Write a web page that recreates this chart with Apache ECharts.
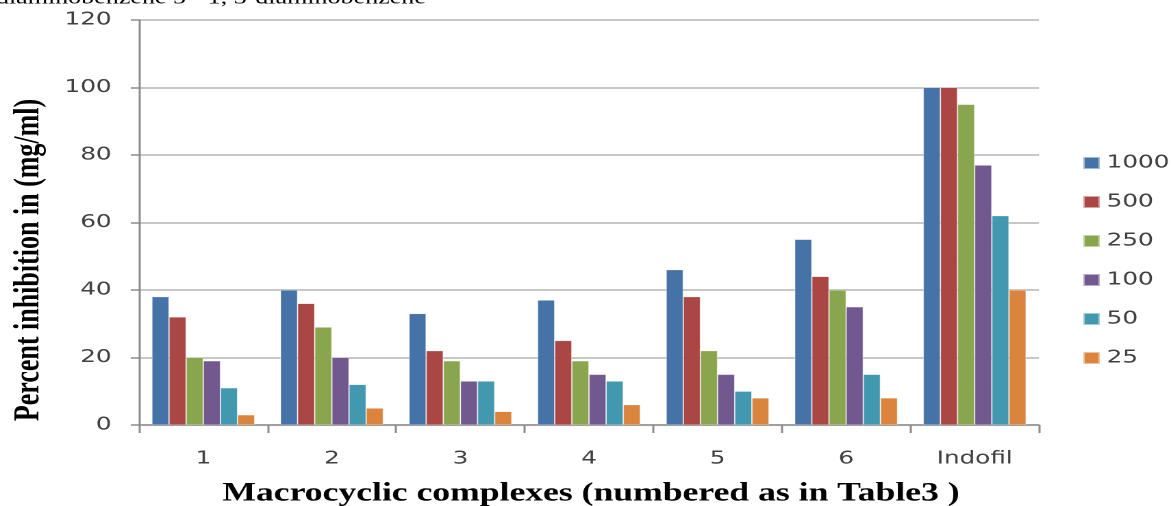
<!DOCTYPE html>
<html>
<head>
<meta charset="utf-8">
<script src="https://cdn.jsdelivr.net/npm/echarts@6/dist/echarts.min.js"></script>
<style>
  html, body { margin: 0; padding: 0; background: #fff; overflow: hidden; }
  /* the figure is laid out on a narrower canvas and stretched sideways */
  #chart { width: 855px; height: 506px; transform: scaleX(1.36959); transform-origin: 0 0; }
</style>
</head>
<body>
<div id="chart"></div>
<script>
// Macrocyclic complexes and the reference fungicide
const categories = ['1', '2', '3', '4', '5', '6', 'Indofil'];

// Percent inhibition at each concentration
const s1000 = [38, 40, 33, 37, 46, 55, 100];
const s500  = [32, 36, 22, 25, 38, 44, 100];
const s250  = [20, 29, 19, 19, 22, 40, 95];
const s100  = [19, 20, 13, 15, 15, 35, 77];
const s50   = [11, 12, 13, 13, 10, 15, 62];
const s25   = [3, 5, 4, 6, 8, 8, 40];

const seriesNames = ['1000', '500', '250', '100', '50', '25'];
const seriesData = [s1000, s500, s250, s100, s50, s25];
const colors = ['#4572A7', '#AA4643', '#89A54E', '#71588F', '#4198AF', '#DB843D'];

const chart = echarts.init(document.getElementById('chart'), null, { renderer: 'canvas', devicePixelRatio: 2 });

const tickFont = { fontFamily: 'DejaVu Sans', fontSize: 18, color: '#404040' };

chart.setOption({
  animation: false,
  color: colors,
  grid: { left: 101.5, right: 96.4, top: 20, bottom: 81, containLabel: false },
  legend: {
    orient: 'vertical',
    left: 785,
    top: 149,
    itemWidth: 12,
    itemHeight: 12,
    itemGap: 21,
    icon: 'rect',
    textStyle: { fontFamily: 'DejaVu Sans', fontSize: 18, color: '#404040' },
    data: seriesNames
  },
  xAxis: {
    type: 'category',
    data: categories,
    axisLine: { lineStyle: { color: '#8c8c8c', width: 1.5 } },
    axisTick: { show: true, length: 8, lineStyle: { color: '#8c8c8c', width: 1.5 } },
    axisLabel: Object.assign({ margin: 25 }, tickFont)
  },
  yAxis: {
    type: 'value',
    min: 0,
    max: 120,
    interval: 20,
    axisLine: { show: true, lineStyle: { color: '#8c8c8c', width: 1.5 } },
    axisTick: { show: true, length: 6, lineStyle: { color: '#8c8c8c', width: 1.5 } },
    axisLabel: Object.assign({ margin: 20 }, tickFont),
    splitLine: { show: true, lineStyle: { color: '#b4b4b4', width: 1.5 } }
  },
  series: seriesNames.map((name, i) => ({
    name: name,
    type: 'bar',
    data: seriesData[i],
    barGap: '0%',
    barCategoryGap: '20%',
    itemStyle: { borderColor: 'rgba(255,255,255,0.5)', borderWidth: 0.5 }
  })),
  graphic: [
    {
      type: 'text',
      x: -3,
      y: -1.5,
      style: {
        text: 'diaminobenzene 5 - 1, 3-diaminobenzene',
        font: '19px "Liberation Serif"',
        fill: '#000',
        textAlign: 'left',
        textVerticalAlign: 'middle'
      }
    },
    {
      type: 'text',
      x: 21.5,
      y: 260,
      rotation: Math.PI / 2,
      style: {
        text: 'Percent inhibition in (mg/ml)',
        font: 'bold 26px "Liberation Serif"',
        fill: '#000',
        textAlign: 'center',
        textVerticalAlign: 'middle'
      }
    },
    {
      type: 'text',
      x: 431.5,
      y: 494,
      style: {
        text: 'Macrocyclic complexes (numbered as in Table3 )',
        font: 'bold 26px "Liberation Serif"',
        fill: '#000',
        textAlign: 'center',
        textVerticalAlign: 'middle'
      }
    }
  ]
});
</script>
</body>
</html>
